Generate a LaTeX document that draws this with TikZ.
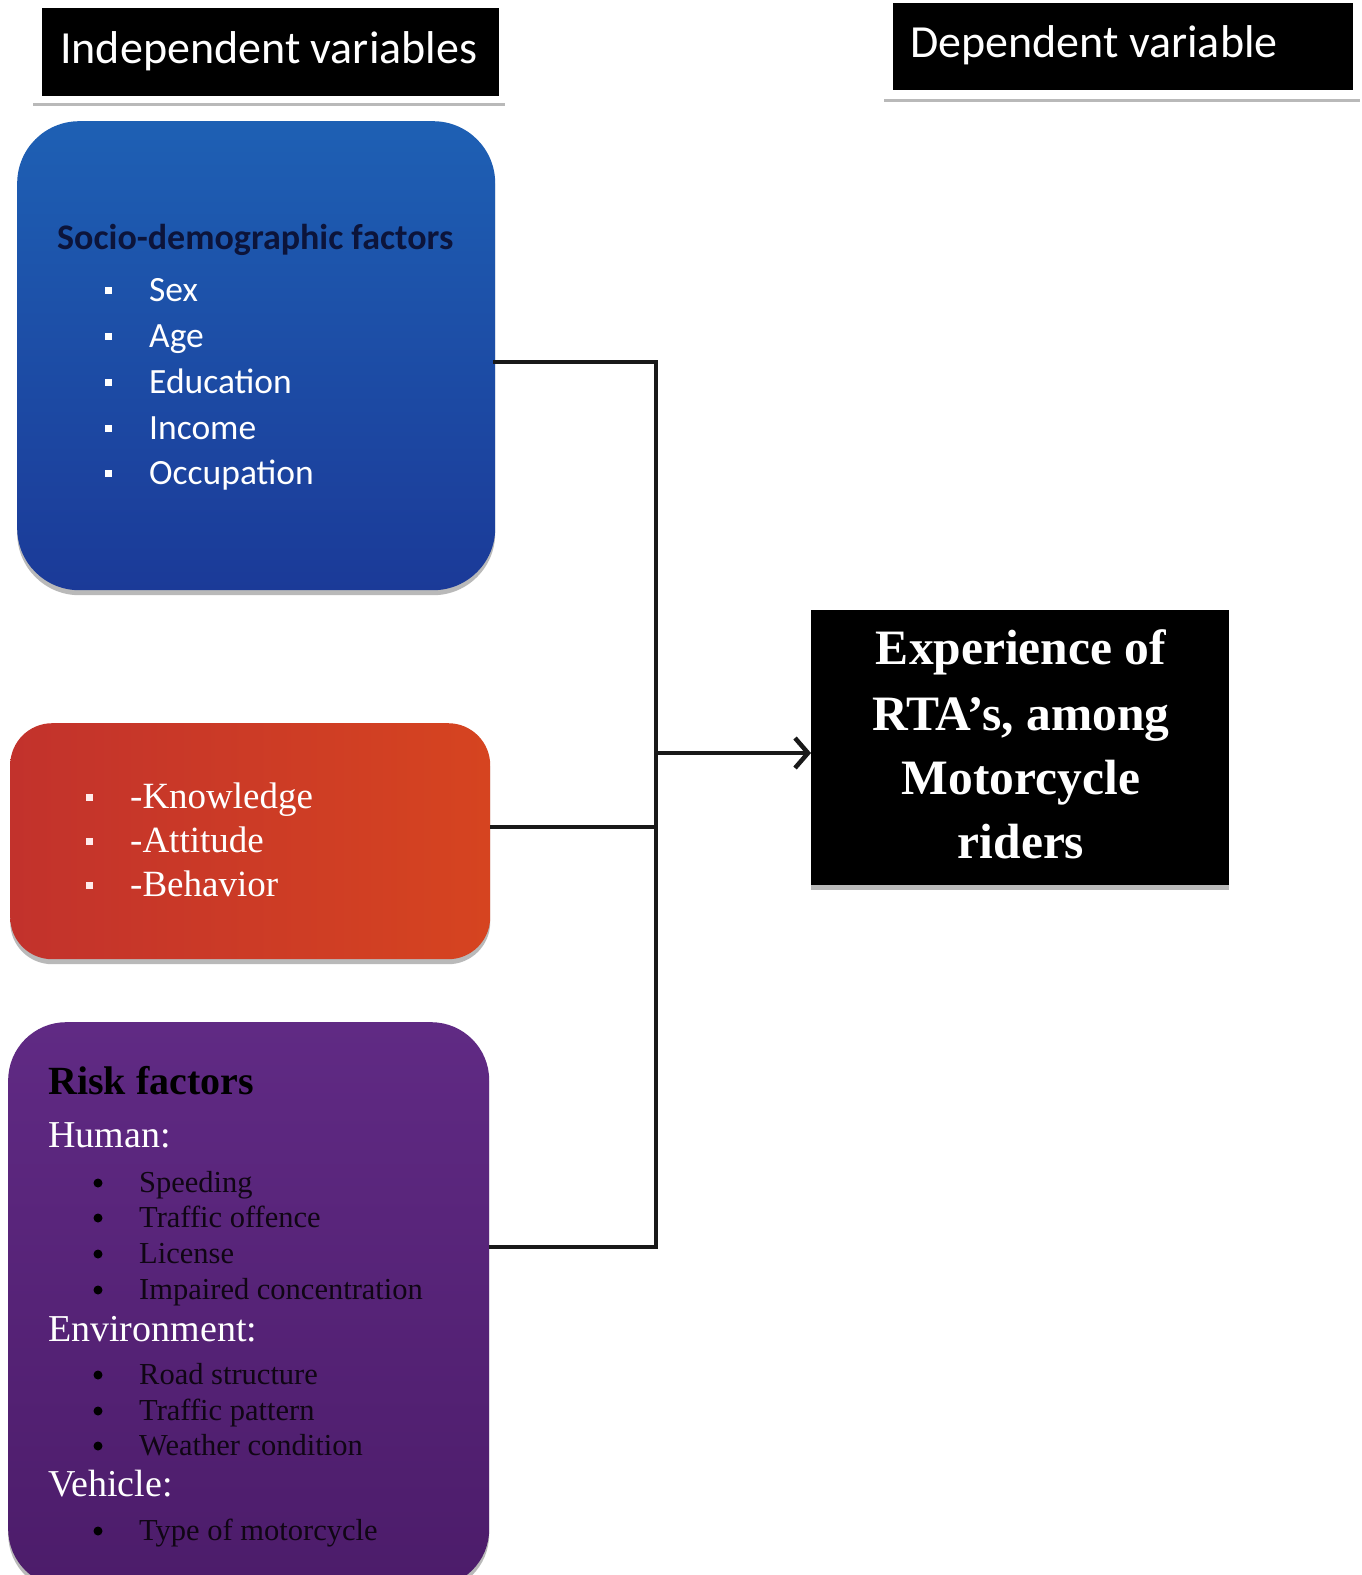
\documentclass[tikz,border=0pt]{standalone}
\usepackage{fontspec}
\setmainfont{Liberation Serif}
\newfontfamily\calfont{Carlito}
\usetikzlibrary{arrows.meta,shadows,calc}
\definecolor{bluetop}{RGB}{30,96,180}
\definecolor{bluebot}{RGB}{27,58,152}
\definecolor{redleft}{RGB}{194,50,44}
\definecolor{redright}{RGB}{214,68,32}
\definecolor{purtop}{RGB}{96,42,132}
\definecolor{purbot}{RGB}{76,28,106}
\definecolor{navy}{RGB}{12,20,58}
\definecolor{darktxt}{RGB}{16,6,20}
\tikzset{
  boxbase/.style={anchor=north west, inner sep=0pt, draw=none},
  hdrbox/.style={boxbase, fill=black},
  hdrtext/.style={anchor=base west, inner sep=0pt, text=white, font=\calfont\fontsize{46}{55}\selectfont},
  hdrline/.style={line width=3pt, gray!55},
  shad/.style={drop shadow={shadow xshift=0pt, shadow yshift=-5pt, fill=gray!60, opacity=0.9}},
  bluetxt/.style={anchor=base west, inner sep=0pt, text=white, font=\calfont\fontsize{35.5}{42}\selectfont},
  redtxt/.style={anchor=base west, inner sep=0pt, text=white, font=\fontsize{37}{44}\selectfont},
  purhead/.style={anchor=base west, inner sep=0pt, text=white, font=\fontsize{38}{45}\selectfont},
  puritem/.style={anchor=base west, inner sep=0pt, text=darktxt, font=\fontsize{30.5}{36}\selectfont},
  rtatxt/.style={anchor=base, inner sep=0pt, text=white, font=\bfseries\fontsize{49.5}{58}\selectfont},
  conn/.style={line width=4.5pt, draw=black!90},
}
\begin{document}
\begin{tikzpicture}[x=1pt,y=-1pt]
\useasboundingbox (0,0) rectangle (1362,1575);
\fill[white] (0,0) rectangle (1362,1575);

% headers
\node[hdrbox, minimum width=457pt, minimum height=88pt] (hL) at (42,8) {};
\node[hdrtext] (hLt) at (60,63) {Independent variables};
\draw[hdrline] (33,104) -- (505,104);
\node[hdrbox, minimum width=460pt, minimum height=87pt] (hR) at (893,3) {};
\node[hdrtext] (hRt) at (910,57) {Dependent variable};
\draw[hdrline] (884,100) -- (1360,100);

% blue box
\node[boxbase, shad, rounded corners=62pt, top color=bluetop, bottom color=bluebot,
      minimum width=478pt, minimum height=469pt] (blue) at (17,121) {};
\node[anchor=base west, inner sep=0pt, text=navy, font=\calfont\bfseries\fontsize{36}{42}\selectfont] (bt) at (57,249) {Socio-demographic factors};
\foreach \t/\yy [count=\i] in {Sex/301, Age/347, Education/393, Income/439, Occupation/484}{
  \fill[white] (104.5,\yy-14.5) rectangle ++(7,7);
  \node[bluetxt] (b\i) at (149,\yy) {\t};
}

% red box
\node[boxbase, shad, rounded corners=42pt, left color=redleft, right color=redright,
      minimum width=480pt, minimum height=236pt] (red) at (10,723) {};
\foreach \t/\yy [count=\i] in {-Knowledge/808, -Attitude/852, -Behavior/896}{
  \fill[white!92!red] (85.5,\yy-14.5) rectangle ++(7,7);
  \node[redtxt] (r\i) at (130,\yy) {\t};
}

% purple box
\node[boxbase, shad, rounded corners=58pt, top color=purtop, bottom color=purbot,
      minimum width=481pt, minimum height=565pt] (pur) at (8,1022) {};
\node[anchor=base west, inner sep=0pt, text=black, font=\bfseries\fontsize{40}{48}\selectfont] (pt) at (48,1094) {Risk factors};
\node[purhead] (ph1) at (48,1147) {Human:};
\node[purhead] (ph2) at (48,1341) {Environment:};
\node[purhead] (ph3) at (48,1496) {Vehicle:};
\foreach \t/\yy [count=\i] in {Speeding/1192, Traffic offence/1227, License/1263, Impaired concentration/1299,
   Road structure/1384, Traffic pattern/1420, Weather condition/1455, Type of motorcycle/1540}{
  \fill[black] (98,\yy-9) circle (4.5pt);
  \node[puritem] (p\i) at (139,\yy) {\t};
}

% dependent box
\node[boxbase, shad, fill=black, minimum width=418pt, minimum height=275pt] (rta) at (811,610) {};
\node[rtatxt] (rt1) at (1021,664) {Experience of};
\node[rtatxt] (rt2) at (1021,730) {RTA’s, among};
\node[rtatxt] (rt3) at (1021,794) {Motorcycle};
\node[rtatxt] (rt4) at (1021,858) {riders};

% connectors
\coordinate (j1) at (656,362);
\coordinate (j2) at (656,827);
\coordinate (j3) at (656,1247);
\coordinate (ja) at (656,753);
\draw[conn, line cap=rect] (blue.east |- j1) -- (j1) -- (j3);
\draw[conn] (red.east |- j2) -- (j2);
\draw[conn] (pur.east |- j3) -- (j3);
\draw[conn, -{Straight Barb[length=13pt,width=30pt]}] (ja) -- (rta.west |- ja);
\end{tikzpicture}
\end{document}
